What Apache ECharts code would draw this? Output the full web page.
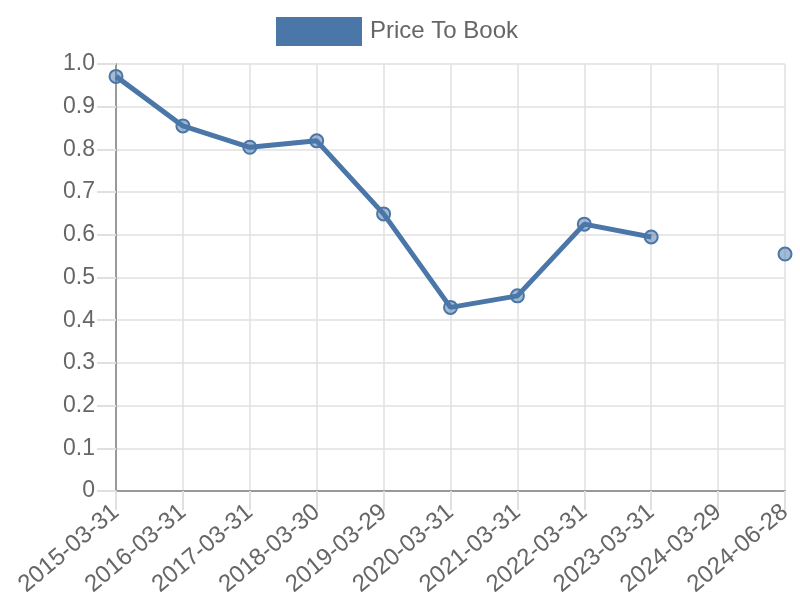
<!DOCTYPE html>
<html><head><meta charset="utf-8">
<script src="https://cdn.jsdelivr.net/npm/echarts@6/dist/echarts.min.js"></script>
<style>html,body{margin:0;padding:0;background:#fff}#c{width:800px;height:600px}</style>
</head><body><div id="c"></div>
<script>
const categories = ['2015-03-31','2016-03-31','2017-03-31','2018-03-30','2019-03-29','2020-03-31','2021-03-31','2022-03-31','2023-03-31','2024-03-29','2024-06-28'];
const priceToBook = [0.971, 0.855, 0.805, 0.820, 0.649, 0.430, 0.457, 0.625, 0.595, null, 0.555];
const yTicks = [0, 0.1, 0.2, 0.3, 0.4, 0.5, 0.6, 0.7, 0.8, 0.9, 1.0];
const seriesName = 'Price To Book';

const chart = echarts.init(document.getElementById('c'));
chart.setOption({
  animation: false,
  textStyle: { fontFamily: 'Liberation Sans, Arial, sans-serif' },
  legend: {
    top: 12, left: 271,
    itemWidth: 86, itemHeight: 29, itemGap: 10,
    icon: 'rect',
    textStyle: { fontSize: 24, color: '#666', padding: [0, 0, 0, 3] },
    data: [{ name: seriesName, itemStyle: { color: '#4a76a8', borderWidth: 0 } }]
  },
  grid: { left: 116, right: 15, top: 64, bottom: 109 },
  xAxis: {
    type: 'category', data: categories, boundaryGap: false,
    axisLine: { lineStyle: { color: '#999', width: 2 } },
    axisTick: { show: true, length: 19, alignWithLabel: true, lineStyle: { color: '#e0e0e0', width: 2 } },
    splitLine: { show: true, lineStyle: { color: '#e0e0e0', width: 1.5 } },
    axisLabel: { rotate: 40, fontSize: 24, color: '#666', margin: 18, interval: 0 }
  },
  yAxis: {
    type: 'value', min: 0, max: 1, interval: 0.1,
    axisLine: { show: true, lineStyle: { color: '#999', width: 2 } },
    axisTick: { show: true, length: 19, lineStyle: { color: '#e0e0e0', width: 2 } },
    splitLine: { lineStyle: { color: '#e0e0e0', width: 1.5 } },
    axisLabel: { fontSize: 23, color: '#666', margin: 21,
      formatter: v => { const t = yTicks.find(x => Math.abs(x - v) < 1e-9); return t === 0 ? '0' : t.toFixed(1); } }
  },
  series: [{
    name: seriesName, type: 'line', data: priceToBook,
    connectNulls: false,
    lineStyle: { color: '#4a76a8', width: 5 },
    symbol: 'circle', symbolSize: 13,
    itemStyle: { color: 'rgba(74,118,168,0.5)', borderColor: '#4a76a8', borderWidth: 2 },
    emphasis: { disabled: true }
  }]
});
</script></body></html>
